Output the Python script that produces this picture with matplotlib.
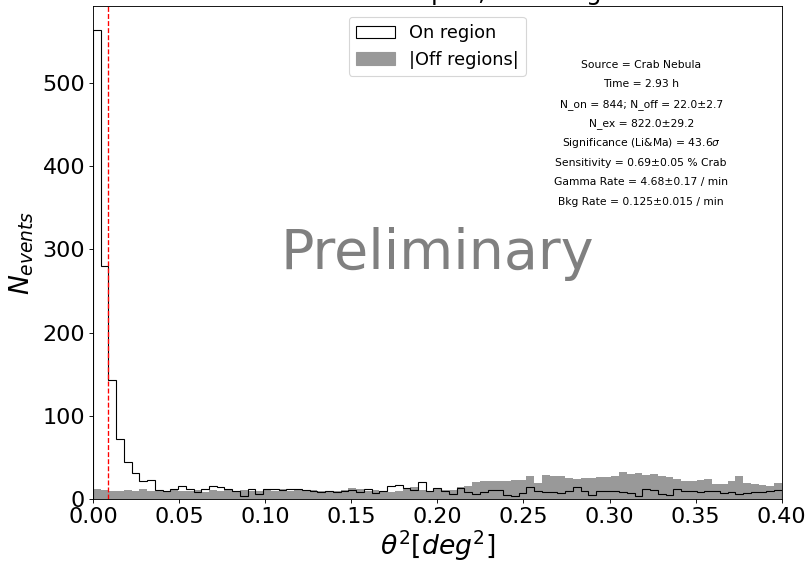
import numpy as np
import matplotlib
matplotlib.use('Agg')
import matplotlib.pyplot as plt
from matplotlib.patches import Patch

# theta^2 bin edges (89 bins between 0 and 0.4 deg^2)
n_bins = 89
theta2_max = 0.4
theta2_cut = 0.009

on_counts = [564, 280, 143, 72, 44, 31, 21, 23, 11, 10,
             12, 15, 12, 8, 12, 16, 14, 12, 10, 4,
             12, 6, 12, 12, 11, 12, 12, 11, 10, 8,
             9, 8, 9, 11, 8, 12, 7, 9, 16, 17,
             13, 11, 20, 10, 13, 10, 6, 13, 8, 6,
             8, 11, 11, 5, 4, 7, 14, 9, 8, 8,
             7, 9, 14, 10, 5, 9, 10, 9, 8, 7,
             4, 12, 11, 6, 5, 12, 10, 10, 8, 10,
             9, 7, 8, 6, 7, 8, 8, 9, 11]

off_counts = [12, 11, 10, 10, 11, 9, 12, 10, 9, 10,
              11, 9, 10, 11, 8, 11, 10, 12, 9, 11,
              10, 9, 11, 10, 12, 10, 11, 9, 11, 10,
              9, 10, 11, 13, 12, 10, 11, 9, 8, 10,
              12, 14, 11, 10, 12, 11, 11, 14, 15, 20,
              21, 21, 22, 22, 23, 23, 28, 19, 29, 27,
              27, 25, 24, 25, 25, 26, 26, 27, 32, 30,
              31, 29, 30, 28, 26, 24, 22, 22, 23, 24,
              18, 18, 21, 28, 19, 18, 17, 16, 19]

stats_lines = ["Source = Crab Nebula",
               "Time = 2.93 h",
               "N_on = 844; N_off = 22.0\u00b12.7",
               "N_ex = 822.0\u00b129.2",
               "Significance (Li&Ma) = 43.6$\\sigma$",
               "Sensitivity = 0.69\u00b10.05 % Crab",
               "Gamma Rate = 4.68\u00b10.17 / min",
               "Bkg Rate = 0.125\u00b10.015 / min"]

edges = np.linspace(0, theta2_max, n_bins + 1)

fig = plt.figure(figsize=(10.1, 7.0625), dpi=80)
ax = fig.add_axes([0.115, 0.117, 0.8525, 0.872])

ax.stairs(off_counts, edges, fill=True, color='#999999')
ax.stairs(on_counts, edges, color='black', linewidth=1)
ax.axvline(theta2_cut, color='red', linestyle='--', linewidth=1.2)

ax.set_xlim(0, theta2_max)
ax.set_ylim(0, max(on_counts) * 1.05)
ax.set_xticks(np.arange(0, 0.401, 0.05))
ax.xaxis.set_major_formatter(matplotlib.ticker.StrMethodFormatter('{x:.2f}'))
ax.tick_params(labelsize=20)

ax.set_xlabel(r'$\theta^2 [deg^2]$', fontsize=24, labelpad=2)
ax.set_ylabel(r'$N_{events}$', fontsize=24, labelpad=6)

handles = [Patch(facecolor='white', edgecolor='black', linewidth=1),
           Patch(facecolor='#999999', edgecolor='#999999')]
ax.legend(handles, ['On region', '|Off regions|'], loc='upper center',
          fontsize=16, borderaxespad=0.6, handlelength=2.2)

ax.text(0.5, 0.497, 'Preliminary', transform=ax.transAxes, fontsize=50,
        color='grey', ha='center', va='center')

# one text per line keeps the spacing even (mathtext line is taller)
for i, line in enumerate(stats_lines):
    ax.text(0.796, 0.881 - i * 0.0398, line, transform=ax.transAxes,
            fontsize=9.7, ha='center', va='center')

# title sits mostly above the visible canvas, as in the original export
fig.text(0.54, 0.9975, r'Crab Nebula $\theta^2$ plot, all energies', fontsize=22,
         ha='center', va='baseline')

plt.savefig('out.png', dpi=80)
